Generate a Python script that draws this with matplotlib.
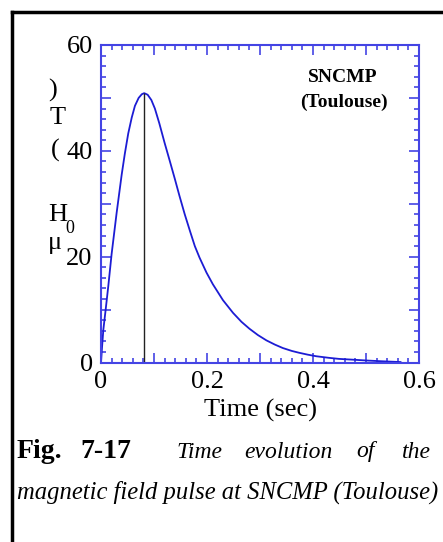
import matplotlib
matplotlib.use("Agg")
import matplotlib.pyplot as plt
from matplotlib.ticker import MultipleLocator, FuncFormatter

# pulse: time (s) and field (T)
time_s = [0.0, 0.002, 0.0044, 0.009, 0.0138, 0.020, 0.0295, 0.039, 0.045, 0.0514,
          0.058, 0.064, 0.071, 0.077, 0.0815, 0.088, 0.095, 0.1016, 0.110, 0.120,
          0.130, 0.139, 0.148, 0.158, 0.168, 0.177, 0.186, 0.199, 0.211, 0.230,
          0.249, 0.265, 0.280, 0.296, 0.312, 0.328, 0.343, 0.360, 0.374, 0.390,
          0.406, 0.430, 0.449, 0.475, 0.500, 0.530, 0.565]
field_t = [0.0, 3.0, 6.2, 10.2, 14.5, 20.5, 28.3, 35.5, 39.5, 43.3,
           46.3, 48.5, 50.0, 50.7, 50.9, 50.6, 49.6, 48.0, 45.2, 41.5,
           38.0, 34.8, 31.5, 28.0, 24.8, 22.0, 19.8, 17.0, 14.8, 11.8,
           9.4, 7.7, 6.4, 5.2, 4.2, 3.4, 2.75, 2.2, 1.85, 1.5,
           1.2, 0.9, 0.7, 0.55, 0.4, 0.25, 0.1]
peak_time = 0.0815
peak_field = 50.9

x_labels = {0.0: "0", 0.2: "0.2", 0.4: "0.4", 0.6: "0.6"}
y_labels = {0: "0", 20: "20", 40: "40", 60: "60"}

plt.rcParams["font.family"] = ["Liberation Serif", "DejaVu Serif"]
axis_blue = "#4444e4"
line_blue = "#1c1cd4"

fig = plt.figure(figsize=(4.43, 5.42), dpi=100)
ax = fig.add_axes([0.228, 0.331, 0.718, 0.586])

ax.plot(time_s, field_t, color=line_blue, lw=1.3)
ax.vlines(peak_time, 0, peak_field, color="#222222", lw=1.0)

ax.set_xlim(0, 0.6)
ax.set_ylim(0, 60)
ax.xaxis.set_major_locator(MultipleLocator(0.1))
ax.xaxis.set_minor_locator(MultipleLocator(0.02))
ax.yaxis.set_major_locator(MultipleLocator(10))
ax.yaxis.set_minor_locator(MultipleLocator(2))
ax.xaxis.set_major_formatter(FuncFormatter(
    lambda v, p: x_labels.get(round(v, 2), "")))
ax.yaxis.set_major_formatter(FuncFormatter(
    lambda v, p: y_labels.get(int(round(v)), "")))

ax.tick_params(which="both", direction="in", top=True, right=True,
               color=axis_blue, width=1.2, labelsize=19)
ax.tick_params(which="major", length=7.2)
ax.tick_params(which="minor", length=3.6)
ax.tick_params(axis="x", pad=6)
ax.tick_params(axis="y", pad=6)
for s in ax.spines.values():
    s.set_color(axis_blue)
    s.set_linewidth(1.5)

# y label drawn as upright stacked characters, as in the original
W, H = 443.0, 542.0
def px(x, y, s, **kw):
    fig.text(x / W, 1 - y / H, s, ha="center", va="center", **kw)

px(53, 90, ")", fontsize=19)
px(58, 118, "T", fontsize=19)
px(55, 150, "(", fontsize=19)
px(58, 215, "H", fontsize=19)
px(70, 228, "0", fontsize=13)
px(55, 243, "\u03bc", fontsize=19)

px(343, 77, "SNCMP", fontsize=14, fontweight="bold")
px(344, 102, "(Toulouse)", fontsize=14, fontweight="bold")

px(260, 410, "Time (sec)", fontsize=19)

# caption, first line spread over the width
fig.text(17 / W, 1 - 452 / H, "Fig.", fontsize=20, fontweight="bold",
         ha="left", va="center")
fig.text(80 / W, 1 - 452 / H, "7-17", fontsize=20, fontweight="bold",
         ha="left", va="center")
for word, xw in [("Time", 176), ("evolution", 244), ("of", 356), ("the", 402)]:
    fig.text(xw / W, 1 - 452 / H, word, fontsize=17, style="italic",
             ha="left", va="center")
fig.text(17 / W, 1 - 492 / H, "magnetic field pulse at SNCMP (Toulouse)",
         fontsize=17.7, style="italic", ha="left", va="center")

# page frame: top and left edges only
fig.add_artist(plt.Line2D([12 / W, 1], [1 - 12 / H, 1 - 12 / H], color="black", lw=2.5))
fig.add_artist(plt.Line2D([12 / W, 12 / W], [0, 1 - 12 / H], color="black", lw=2.5))

fig.savefig("out.png", dpi=100)
